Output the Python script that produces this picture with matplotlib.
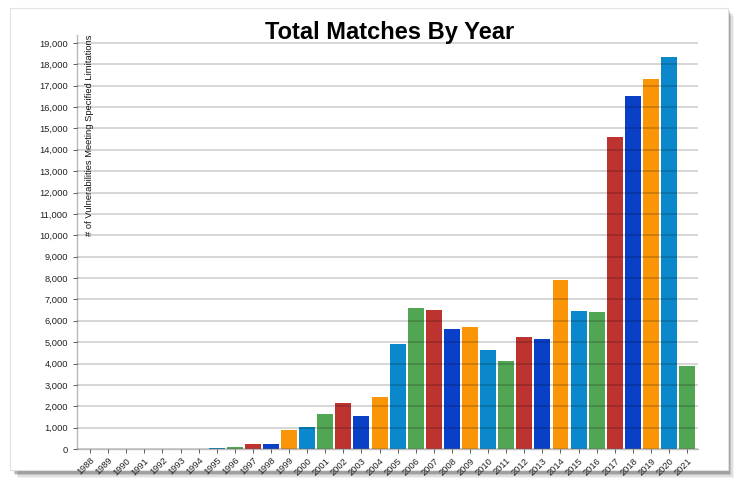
import matplotlib.pyplot as plt
from matplotlib.patches import Rectangle
from matplotlib.ticker import FuncFormatter

plt.rcParams["font.family"] = ["Liberation Sans", "DejaVu Sans"]

years = [str(y) for y in range(1988, 2022)]
matches = [0, 0, 10, 10, 10, 10, 15, 25, 90, 250, 240, 880, 1010, 1660,
           2150, 1530, 2450, 4910, 6590, 6500, 5610, 5700, 4630, 4130,
           5260, 5170, 7910, 6460, 6420, 14620, 16510, 17290, 18340, 3880]
palette = ["#bd3330", "#0a40c8", "#f99506", "#0a88cb", "#52a552"]

fig = plt.figure(figsize=(7.4, 4.94), dpi=100)

# white panel with a soft shadow
for k, a in enumerate([0.05, 0.08, 0.12, 0.18]):
    off = (4 - k) * 1.5
    fig.patches.append(Rectangle(((12 + off) / 740, 1 - (472 + off) / 494),
                                 716 / 740, 462 / 494,
                                 transform=fig.transFigure, color="black",
                                 alpha=a, lw=0, zorder=0))
fig.patches.append(Rectangle((10 / 740, 1 - 470 / 494), 718 / 740, 462 / 494,
                             transform=fig.transFigure, facecolor="white",
                             edgecolor="#e2e2e2", lw=0.8, zorder=1))

ax = fig.add_axes([77 / 740, 1 - 449 / 494, 621 / 740, 414 / 494])
ax.set_facecolor("none")
ax.set_zorder(2)

x = range(len(years))
cols = [palette[(i + 1) % 5] for i in x]
ax.bar(x, matches, width=0.88, color=cols, linewidth=0, zorder=2)

ax.set_xlim(-0.72, 33.6)
ax.set_ylim(0, 19370)
ax.set_yticks(range(0, 19001, 1000))
ax.yaxis.set_major_formatter(FuncFormatter(lambda v, p: f"{int(v):,}"))
ax.set_xticks(list(x))
ax.set_xticklabels(years, rotation=45, ha="right", rotation_mode="anchor")
ax.tick_params(axis="both", labelsize=6.7, colors="#444444", length=3, width=0.6,
               labelcolor="#222222")
ax.tick_params(axis="x", pad=2)
ax.yaxis.grid(True, color="black", alpha=0.16, linewidth=1.4, zorder=3)
ax.set_axisbelow(False)
for s in ["top", "right"]:
    ax.spines[s].set_visible(False)
for s in ["left", "bottom"]:
    ax.spines[s].set_color("#bbbbbb")
    ax.spines[s].set_linewidth(1.0)

ax.text(0.013, 1.0, "# of Vulnerabilities Meeting Specified Limitations",
        transform=ax.transAxes, rotation=90, ha="left", va="top",
        fontsize=6.75, color="#111111")

fig.text(390 / 740, 1 - 32 / 494, "Total Matches By Year", ha="center", va="center",
         fontsize=17, fontweight="bold")

fig.savefig("out.png", dpi=100)
